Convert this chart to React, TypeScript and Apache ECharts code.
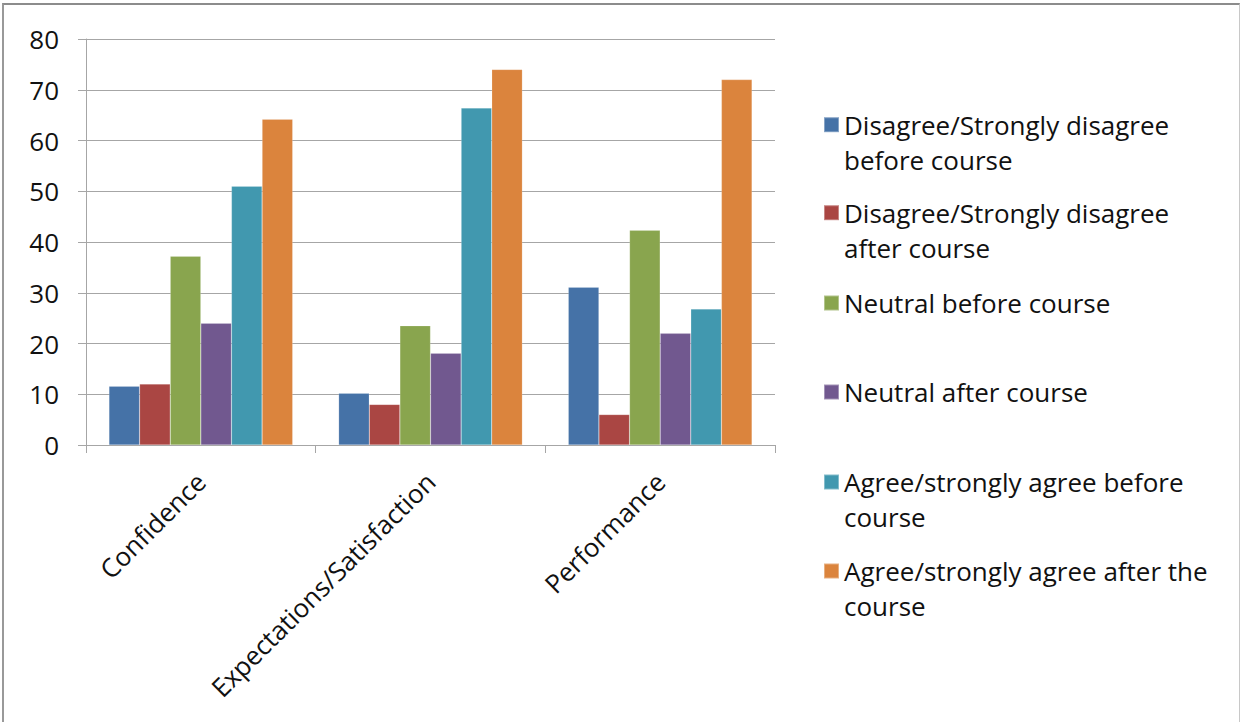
import React, { useEffect, useRef } from "react";
import * as echarts from "echarts";

const categories = ["Confidence", "Expectations/Satisfaction", "Performance"];
const seriesNames = [
  "Disagree/Strongly disagree before course",
  "Disagree/Strongly disagree after course",
  "Neutral before course",
  "Neutral after course",
  "Agree/strongly agree before course",
  "Agree/strongly agree after the course",
];
const legendLabels = [
  "Disagree/Strongly disagree\nbefore course",
  "Disagree/Strongly disagree\nafter course",
  "Neutral before course",
  "Neutral after course",
  "Agree/strongly agree before\ncourse",
  "Agree/strongly agree after the\ncourse",
];
const disagreeBefore = [11.6, 10.2, 31.1];
const disagreeAfter = [12.0, 8.0, 6.0];
const neutralBefore = [37.2, 23.5, 42.3];
const neutralAfter = [24.0, 18.1, 22.0];
const agreeBefore = [51.0, 66.4, 26.8];
const agreeAfter = [64.2, 74.0, 72.0];
const seriesValues = [disagreeBefore, disagreeAfter, neutralBefore, neutralAfter, agreeBefore, agreeAfter];
const colors = ["#4572A7", "#AA4643", "#89A54E", "#71588F", "#4198AF", "#DB843D"];
const yTicks = [0, 10, 20, 30, 40, 50, 60, 70, 80];

const FONT = "Open Sans";
const FS = 26;
const LH = 35;
const legendCenters = [124.7, 212.7, 303, 392, 482, 571];

export default function App() {
  const ref = useRef<HTMLDivElement>(null);
  useEffect(() => {
    if (!ref.current) return;
    const chart = echarts.init(ref.current, null, { renderer: "svg" });
    const legends = seriesNames.map((name, i) => {
      const twoLines = legendLabels[i].includes("\n");
      return {
        show: true,
        orient: "vertical",
        left: 823,
        top: twoLines ? legendCenters[i] - 1.5 * LH : legendCenters[i] - 0.5 * LH,
        padding: 0,
        itemWidth: 15,
        itemHeight: 15,
        itemGap: 0,
        icon: "rect",
        data: [name],
        formatter: () => (twoLines ? " \n" + legendLabels[i] : legendLabels[i]),
        textStyle: {
          fontFamily: FONT,
          fontSize: FS,
          lineHeight: LH,
          color: "#111",
        },
      };
    });
    chart.setOption({
      animation: false,
      color: colors,
      textStyle: { fontFamily: FONT },
      grid: { left: 86, right: 466, top: 39, bottom: 277, containLabel: false },
      legend: legends,
      xAxis: {
        type: "category",
        data: categories,
        axisLine: { lineStyle: { color: "#a6a6a6", width: 1 } },
        axisTick: { show: true, length: 8, lineStyle: { color: "#a6a6a6" } },
        axisLabel: {
          rotate: 45,
          margin: 32,
          interval: 0,
          fontFamily: FONT,
          fontSize: FS,
          color: "#111",
        },
      },
      yAxis: {
        type: "value",
        min: yTicks[0],
        max: yTicks[yTicks.length - 1],
        interval: 10,
        axisLine: { show: true, lineStyle: { color: "#a6a6a6", width: 1 } },
        axisTick: { show: true, length: 8, lineStyle: { color: "#a6a6a6" } },
        splitLine: { show: true, lineStyle: { color: "#a6a6a6", width: 1 } },
        axisLabel: { margin: 27, fontFamily: FONT, fontSize: FS, color: "#111" },
      },
      series: seriesNames.map((name, i) => ({
        name,
        type: "bar",
        data: seriesValues[i],
        barGap: "0%",
        barCategoryGap: "20%",
        itemStyle: { color: colors[i], borderColor: "rgba(255,255,255,0.35)", borderWidth: 0.5 },
      })),
    });
    return () => chart.dispose();
  }, []);
  return (
    <div style={{ position: "fixed", left: 0, top: 0, width: 1241, height: 722, background: "#fff" }}>
      <div ref={ref} style={{ position: "absolute", left: 0, top: 0, width: 1241, height: 722 }} />
      <div
        style={{
          position: "absolute",
          left: 2,
          top: 3,
          width: 1235,
          height: 730,
          borderLeft: "2px solid #999",
          borderTop: "2px solid #8c8c8c",
          borderRight: "1px solid #c8c8c8",
          pointerEvents: "none",
        }}
      />
    </div>
  );
}
